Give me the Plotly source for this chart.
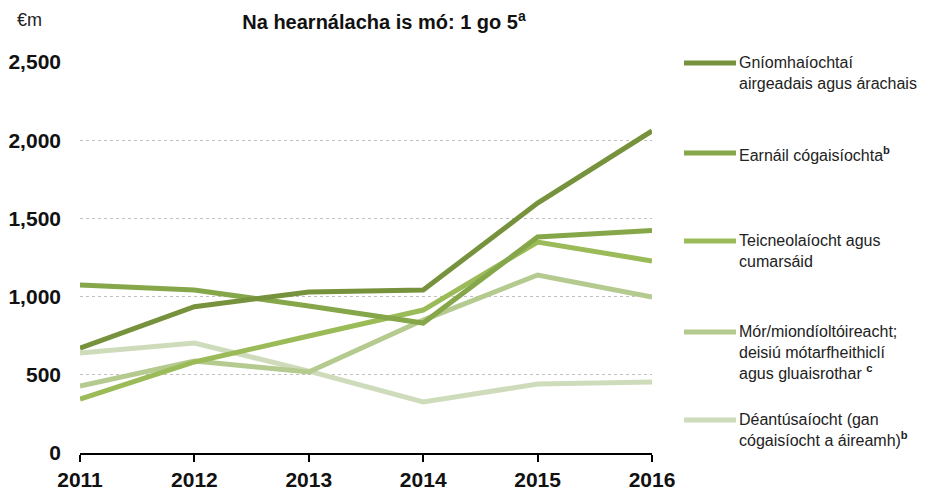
import plotly.graph_objects as go

years = [2011, 2012, 2013, 2014, 2015, 2016]

finance = [670, 935, 1030, 1042, 1598, 2059]
pharma = [1074, 1042, 940, 831, 1381, 1422]
ict = [345, 582, 748, 914, 1349, 1228]
retail = [428, 588, 518, 850, 1138, 997]
manufacturing = [639, 703, 524, 326, 441, 454]

series_names = [
    "Gníomhaíochtaí<br>airgeadais agus árachais",
    "Earnáil cógaisíochta<sup><b>b</b></sup>",
    "Teicneolaíocht agus<br>cumarsáid",
    "Mór/miondíoltóireacht;<br>deisiú mótarfheithiclí<br>agus gluaisrothar <sup><b>c</b></sup>",
    "Déantúsaíocht (gan<br>cógaisíocht a áireamh)<sup><b>b</b></sup>",
]
series_values = [finance, pharma, ict, retail, manufacturing]
colours = ["#77923c", "#86a64a", "#9bbb59", "#b4ca8f", "#cfdcbb"]

# pixel layout helpers (plot area 80..652 x, 62..453 y)
W, H = 931, 491
L, R, T, B = 80, 652, 62, 453


def px_x(p):
    return (p - L) / (R - L)


def px_y(p):
    return (B - p) / (B - T)


fig = go.Figure()

# draw lightest first so darker lines sit on top
for name, vals, col in reversed(list(zip(series_names, series_values, colours))):
    fig.add_trace(go.Scatter(
        x=years, y=vals, mode="lines", name=name,
        line=dict(color=col, width=5),
        showlegend=False, hoverinfo="x+y",
    ))

# hand-drawn legend on the right
legend_y = [63, 153, 241, 332, 420]
for name, col, ly in zip(series_names, colours, legend_y):
    fig.add_shape(
        type="line", xref="paper", yref="paper",
        x0=px_x(684), x1=px_x(736), y0=px_y(ly), y1=px_y(ly),
        line=dict(color=col, width=5),
    )
    fig.add_annotation(
        xref="paper", yref="paper", x=px_x(737), y=px_y(ly - 11),
        xanchor="left", yanchor="top", align="left", showarrow=False,
        text=name, font=dict(family="Arial", size=16, color="#222"),
    )

fig.add_annotation(
    xref="paper", yref="paper", x=px_x(29), y=px_y(20),
    xanchor="center", yanchor="middle", showarrow=False,
    text="€m", font=dict(family="Arial", size=18, color="#222"),
)

fig.update_layout(
    width=W, height=H,
    margin=dict(l=L, r=W - R, t=T, b=H - B, pad=0),
    paper_bgcolor="white", plot_bgcolor="white",
    title=dict(
        text="<b>Na hearnálacha is mó: 1 go 5<sup>a</sup></b>",
        xref="container", yref="container",
        x=384 / W, y=1 - 22 / H, xanchor="center", yanchor="middle",
        font=dict(family="Arial", size=20, color="#111"),
    ),
)

fig.update_xaxes(
    range=[2011, 2016], tickvals=years, automargin=False,
    showgrid=False, zeroline=False,
    showline=True, linecolor="black", linewidth=2,
    ticks="outside", ticklen=7, tickwidth=2, tickcolor="black",
    tickfont=dict(family="Arial", size=21, color="#111", weight="bold"),
)
fig.update_yaxes(
    range=[0, 2500], tickvals=[0, 500, 1000, 1500, 2000, 2500], automargin=False,
    tickformat=",", showline=False, zeroline=False,
    showgrid=True, gridcolor="#c0c0c0", gridwidth=1, griddash="dot",
    ticklabelstandoff=18,
    tickfont=dict(family="Arial", size=21, color="#111", weight="bold"),
)

fig.write_html(
    "out.html",
    config={"displayModeBar": False},
    post_script="document.body.style.margin = '0';",
)
